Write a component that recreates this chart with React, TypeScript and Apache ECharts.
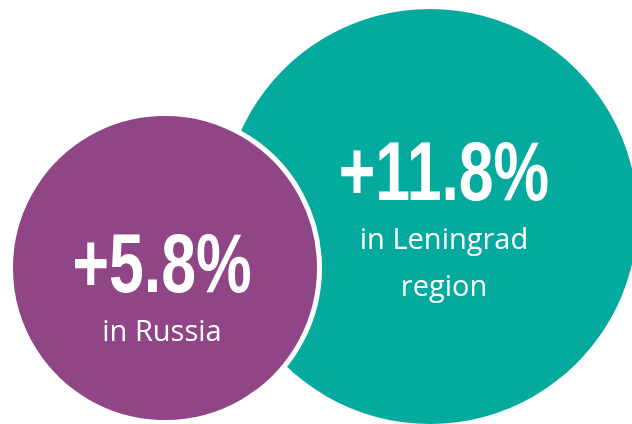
import React, { useEffect, useRef } from "react";
import * as echarts from "echarts";

// ---- data ----
const regions: string[] = ["Leningrad region", "Russia"];
const regionLines: string[][] = [["in Leningrad", "region"], ["in Russia"]];
const growthPct: number[] = [11.8, 5.8];
const valueLabels: string[] = ["+11.8%", "+5.8%"];

// ---- layout (bubble centres in chart units, label anchors) ----
const bubbleX = [430, 165];
const bubbleY = [216.5, 268];
const labelDX = [14, -3];
const labelDY = [-45.5, -5];
const colors = ["#05AA9E", "#8F4586"];

// radius scale for bubble size (value -> px)
const radiusOf = (v: number) => 98.35 + 9.25 * v;

export default function App() {
  const ref = useRef<HTMLDivElement>(null);
  useEffect(() => {
    if (!ref.current) return;
    const chart = echarts.init(ref.current, null, { renderer: "svg" });
    const data = growthPct.map((g, i) => [bubbleX[i], bubbleY[i], g, i]);
    chart.setOption({
      animation: false,
      grid: { left: 0, right: 0, top: 0, bottom: 0 },
      xAxis: { type: "value", min: 0, max: 632, show: false },
      yAxis: { type: "value", min: 0, max: 424, inverse: true, show: false },
      series: [
        {
          type: "custom",
          coordinateSystem: "cartesian2d",
          data,
          renderItem: (params: any, api: any) => {
            const i = api.value(3);
            const c = api.coord([api.value(0), api.value(1)]);
            const r = radiusOf(api.value(2));
            const isRussia = regions[i] === "Russia";
            const tx = c[0] + labelDX[i];
            const ty = c[1] + labelDY[i];
            const children: any[] = [
              {
                type: "circle",
                z2: isRussia ? 10 : 5,
                shape: { cx: c[0], cy: c[1], r: isRussia ? r + 2.5 : r },
                style: {
                  fill: colors[i],
                  stroke: isRussia ? "#ffffff" : null,
                  lineWidth: isRussia ? 5 : 0,
                },
              },
              {
                type: "text",
                z2: 20,
                x: tx,
                y: ty,
                scaleX: 0.745,
                originX: 0,
                originY: 0,
                style: {
                  x: 0,
                  y: 0,
                  text: valueLabels[i],
                  fill: "#ffffff",
                  fontSize: 84,
                  fontWeight: "bold",
                  fontFamily: "Liberation Sans",
                  align: "center",
                  verticalAlign: "middle",
                },
              },
            ];
            regionLines[i].forEach((line, k) => {
              children.push({
                type: "text",
                z2: 20,
                x: tx,
                y: ty + 66.5 + 47 * k,
                style: {
                  text: line,
                  fill: "#ffffff",
                  fontSize: 29,
                  fontFamily: "Open Sans",
                  align: "center",
                  verticalAlign: "middle",
                },
              });
            });
            return { type: "group", children };
          },
        },
      ],
    });
    return () => chart.dispose();
  }, []);
  return (
    <div
      ref={ref}
      style={{ position: "fixed", left: 0, top: 0, width: 632, height: 424 }}
    />
  );
}
